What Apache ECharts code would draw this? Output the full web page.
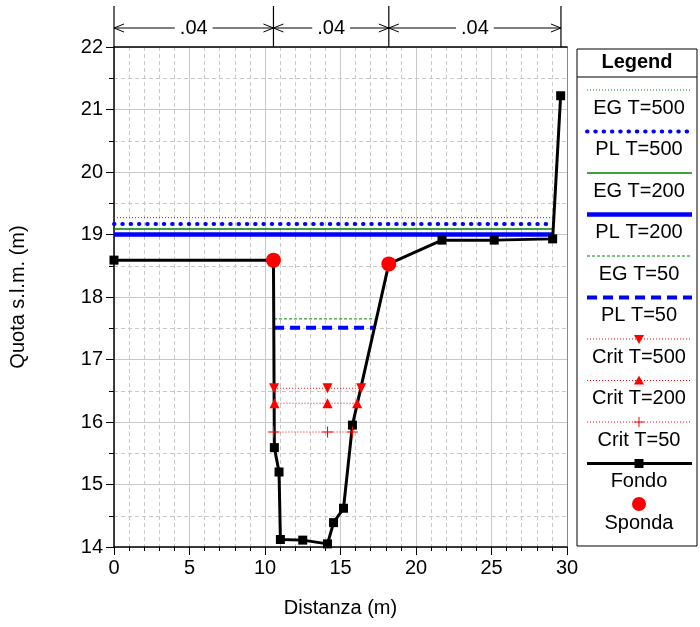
<!DOCTYPE html>
<html>
<head>
<meta charset="utf-8">
<script src="https://cdn.jsdelivr.net/npm/echarts@6/dist/echarts.min.js"></script>
<style>html,body{margin:0;padding:0;background:#fff}#c{width:700px;height:627px}</style>
</head>
<body>
<div id="c"></div>
<script>
// ---- data ----
const fondoX = [0, 10.56, 10.62, 10.93, 11.02, 12.5, 14.14, 14.54, 15.2, 15.79, 18.2, 21.72, 25.18, 29.05, 29.58];
const fondoY = [18.59, 18.59, 15.59, 15.2, 14.12, 14.11, 14.05, 14.39, 14.62, 15.95, 18.53, 18.91, 18.91, 18.93, 21.22];
const spondaX = [10.56, 18.2];
const spondaY = [18.59, 18.53];
const wideX = [0, 29.05];
const eg500Y = 19.27, pl500Y = 19.17, eg200Y = 19.09, pl200Y = 19.0;
const narrowX = [10.6, 17.25];
const eg50Y = 17.65, pl50Y = 17.51;
const crit500X = [10.6, 14.14, 16.37], crit500Y = 16.54;
const crit200X = [10.63, 14.14, 16.1], crit200Y = 16.3;
const crit50X = [10.56, 14.14, 15.79], crit50Y = 15.84;
const dimX = [0, 10.56, 18.2, 29.6];
const dimLabels = ['.04', '.04', '.04'];
const xTicks = [0, 5, 10, 15, 20, 25, 30];
const yTicks = [14, 15, 16, 17, 18, 19, 20, 21, 22];

const FONT = "'Liberation Sans', Arial, sans-serif";
const FS = 20;
const BLUE = '#0000ff', GREEN = '#008000', RED = '#ff0000';
const PLUS = 'path://M4.5,0H5.5V4.5H10V5.5H5.5V10H4.5V5.5H0V4.5H4.5Z';

const pairs = (xs, ys) => xs.map((x, i) => [x, Array.isArray(ys) ? ys[i] : ys]);

const styles = {
  eg500: {color: GREEN, width: 1, type: [1, 2]},
  pl500: {color: BLUE, width: 4, type: [0.5, 7.8], cap: 'round'},
  eg200: {color: GREEN, width: 1.5, type: 'solid'},
  pl200: {color: BLUE, width: 4.5, type: 'solid'},
  eg50: {color: GREEN, width: 1, type: [3, 2]},
  pl50: {color: BLUE, width: 4, type: [10, 6]},
  crit: {color: RED, width: 1.2, type: [1, 2]}
};

const chart = echarts.init(document.getElementById('c'), null, {renderer: 'canvas'});

function lineSeries(name, data, ls, extra) {
  return Object.assign({
    name, type: 'line', data, symbol: 'none', silent: true, animation: false,
    lineStyle: ls, itemStyle: {color: ls.color}, z: 3
  }, extra || {});
}

const option = {
  animation: false,
  grid: {left: 114, right: 133, top: 47, bottom: 80},
  xAxis: [{
    type: 'value', min: 0, max: 30, interval: 5,
    axisLine: {show: true, onZero: false, lineStyle: {color: '#000', width: 1.5}},
    axisTick: {show: true, length: 8, lineStyle: {color: '#000'}},
    minorTick: {show: true, splitNumber: 5, length: 4, lineStyle: {color: '#000'}},
    axisLabel: {color: '#000', fontSize: FS, fontFamily: FONT, margin: 11,
      formatter: v => xTicks.includes(v) ? String(v) : ''},
    splitLine: {show: true, lineStyle: {color: '#c8c8c8', width: 1}},
    minorSplitLine: {show: true, lineStyle: {color: '#c8c8c8', type: [4, 3], width: 1}},
    name: 'Distanza (m)', nameLocation: 'middle', nameGap: 51,
    nameTextStyle: {color: '#000', fontSize: FS, fontFamily: FONT}
  }, {
    type: 'value', min: 0, max: 30, position: 'top',
    axisLine: {show: true, onZero: false, lineStyle: {color: '#000', width: 1.5}},
    axisTick: {show: false}, axisLabel: {show: false}, splitLine: {show: false}
  }],
  yAxis: [{
    type: 'value', min: 14, max: 22, interval: 1,
    axisLine: {show: true, onZero: false, lineStyle: {color: '#000', width: 1.5}},
    axisTick: {show: true, length: 8, lineStyle: {color: '#000'}},
    minorTick: {show: true, splitNumber: 2, length: 5, lineStyle: {color: '#000'}},
    axisLabel: {color: '#000', fontSize: FS, fontFamily: FONT, margin: 11,
      formatter: v => yTicks.includes(v) ? String(v) : ''},
    splitLine: {show: true, lineStyle: {color: '#c8c8c8', width: 1}},
    minorSplitLine: {show: true, lineStyle: {color: '#c8c8c8', type: [4, 3], width: 1}},
    name: 'Quota s.l.m. (m)', nameLocation: 'middle', nameGap: 86,
    nameTextStyle: {color: '#000', fontSize: FS, fontFamily: FONT}
  }, {
    type: 'value', min: 14, max: 22, position: 'right',
    axisLine: {show: true, onZero: false, lineStyle: {color: '#888', width: 1}},
    axisTick: {show: false}, axisLabel: {show: false}, splitLine: {show: false}
  }],
  series: [
    lineSeries('EG T=500', pairs(wideX, eg500Y), styles.eg500),
    lineSeries('PL T=500', pairs(wideX, pl500Y), styles.pl500),
    lineSeries('EG T=200', pairs(wideX, eg200Y), styles.eg200),
    lineSeries('PL T=200', pairs(wideX, pl200Y), styles.pl200),
    lineSeries('EG T=50', pairs(narrowX, eg50Y), styles.eg50),
    lineSeries('PL T=50', pairs(narrowX, pl50Y), styles.pl50),
    lineSeries('Fondo', pairs(fondoX, fondoY), {color: '#000', width: 3, type: 'solid'},
      {symbol: 'rect', symbolSize: 9, showSymbol: true, z: 4}),
    lineSeries('Crit T=500', pairs(crit500X, crit500Y), styles.crit,
      {symbol: 'triangle', symbolRotate: 180, symbolSize: 10, showSymbol: true, z: 5}),
    lineSeries('Crit T=200', pairs(crit200X, crit200Y), styles.crit,
      {symbol: 'triangle', symbolSize: 10, showSymbol: true, z: 5}),
    lineSeries('Crit T=50', pairs(crit50X, crit50Y), styles.crit,
      {symbol: PLUS, symbolSize: 11, showSymbol: true, z: 5}),
    {name: 'Sponda', type: 'scatter', data: pairs(spondaX, spondaY), symbol: 'circle',
      symbolSize: 15, itemStyle: {color: RED, opacity: 1}, z: 10, silent: true}
  ]
};
chart.setOption(option);

// ---- decorations: dimension arrows (through axis scale) and legend box ----
const g = [];
const dimTop = 6, dimBot = 47, arrowY = 28;
const px = dimX.map(x => chart.convertToPixel({xAxisIndex: 0}, x));
px.forEach(p => g.push({type: 'line', shape: {x1: p, y1: dimTop, x2: p, y2: dimBot},
  style: {stroke: '#000', lineWidth: 1.2}, z: 10}));
for (let i = 0; i < dimLabels.length; i++) {
  const a = px[i], b = px[i + 1];
  g.push({type: 'line', shape: {x1: a, y1: arrowY, x2: b, y2: arrowY}, style: {stroke: '#000', lineWidth: 1}, z: 10});
  g.push({type: 'polyline', shape: {points: [[a + 10, arrowY - 4], [a, arrowY], [a + 10, arrowY + 4]]}, style: {stroke: '#000', lineWidth: 1, fill: null}, z: 10});
  g.push({type: 'polyline', shape: {points: [[b - 10, arrowY - 4], [b, arrowY], [b - 10, arrowY + 4]]}, style: {stroke: '#000', lineWidth: 1, fill: null}, z: 10});
  g.push({type: 'text', x: (a + b) / 2, y: arrowY, style: {text: dimLabels[i], fill: '#000', font: FS + 'px ' + FONT,
    align: 'center', verticalAlign: 'middle', backgroundColor: '#fff', padding: [0, 5]}, z: 11});
}

// legend
const LX = 577, LY = 49, LW = 120, LH = 497;
g.push({type: 'rect', shape: {x: LX, y: LY, width: LW, height: LH}, style: {fill: '#fff', stroke: '#000', lineWidth: 1}, z: 10});
g.push({type: 'line', shape: {x1: LX, y1: 77, x2: LX + LW, y2: 77}, style: {stroke: '#000', lineWidth: 1}, z: 11});
g.push({type: 'text', x: LX + LW / 2, y: 62, style: {text: 'Legend', fill: '#000', font: 'bold ' + FS + 'px ' + FONT, align: 'center', verticalAlign: 'middle'}, z: 11});

const legendItems = [
  {label: 'EG T=500', ls: styles.eg500},
  {label: 'PL T=500', ls: styles.pl500},
  {label: 'EG T=200', ls: styles.eg200},
  {label: 'PL T=200', ls: styles.pl200},
  {label: 'EG T=50', ls: styles.eg50},
  {label: 'PL T=50', ls: styles.pl50},
  {label: 'Crit T=500', ls: styles.crit, mark: 'down'},
  {label: 'Crit T=200', ls: styles.crit, mark: 'up'},
  {label: 'Crit T=50', ls: styles.crit, mark: 'plus'},
  {label: 'Fondo', ls: {color: '#000', width: 3, type: 'solid'}, mark: 'square'},
  {label: 'Sponda', ls: null, mark: 'circle'}
];
const sx1 = 587, sx2 = 692, cx = 639;
legendItems.forEach((it, i) => {
  const ly = 90 + i * 41.5;
  const ty = ly + 18;
  if (it.ls) {
    const dash = Array.isArray(it.ls.type) ? it.ls.type : null;
    g.push({type: 'line', shape: {x1: sx1, y1: ly, x2: sx2, y2: ly},
      style: {stroke: it.ls.color, lineWidth: it.ls.width, lineDash: dash, lineCap: it.ls.cap || 'butt'}, z: 11});
  }
  if (it.mark === 'down') g.push({type: 'polygon', shape: {points: [[cx - 5, ly - 4], [cx + 5, ly - 4], [cx, ly + 5]]}, style: {fill: RED}, z: 12});
  if (it.mark === 'up') g.push({type: 'polygon', shape: {points: [[cx - 5, ly + 4], [cx + 5, ly + 4], [cx, ly - 5]]}, style: {fill: RED}, z: 12});
  if (it.mark === 'plus') {
    g.push({type: 'line', shape: {x1: cx - 5, y1: ly, x2: cx + 5, y2: ly}, style: {stroke: RED, lineWidth: 1}, z: 12});
    g.push({type: 'line', shape: {x1: cx, y1: ly - 5, x2: cx, y2: ly + 5}, style: {stroke: RED, lineWidth: 1}, z: 12});
  }
  if (it.mark === 'square') g.push({type: 'rect', shape: {x: cx - 4.5, y: ly - 4.5, width: 9, height: 9}, style: {fill: '#000'}, z: 12});
  if (it.mark === 'circle') g.push({type: 'circle', shape: {cx: cx, cy: ly - 1, r: 7}, style: {fill: RED}, z: 12});
  g.push({type: 'text', x: cx, y: ty, style: {text: it.label, fill: '#000', font: FS + 'px ' + FONT, align: 'center', verticalAlign: 'middle'}, z: 12});
});
chart.setOption({graphic: g});
</script>
</body>
</html>
